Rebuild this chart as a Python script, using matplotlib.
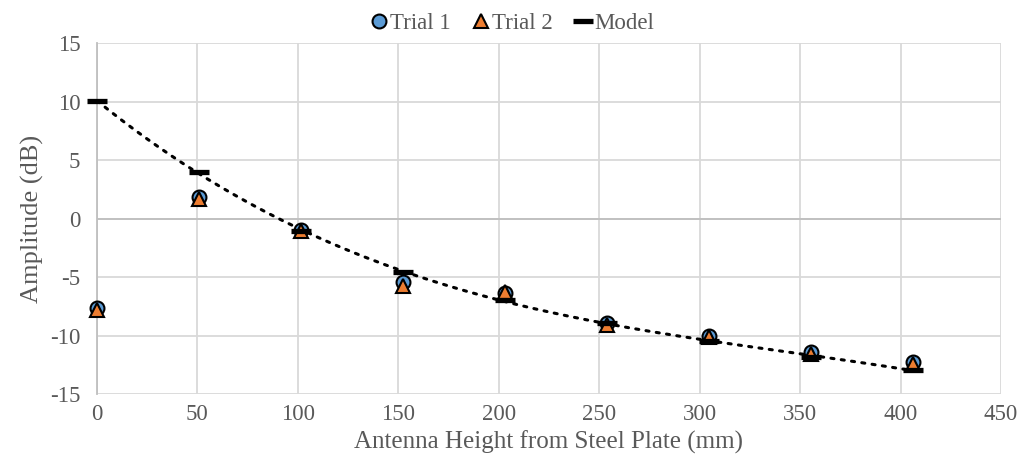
import matplotlib
matplotlib.use("Agg")
import matplotlib.pyplot as plt
import numpy as np

plt.rcParams['font.family'] = ['Liberation Serif', 'DejaVu Serif']
plt.rcParams['axes.unicode_minus'] = False

height = [0, 50.8, 101.6, 152.4, 203.2, 254.0, 304.8, 355.6, 406.4]
trial1 = [-7.65, 1.8, -0.95, -5.4, -6.4, -8.9, -10.0, -11.4, -12.25]
trial2 = [-7.8, 1.7, -1.05, -5.8, -6.25, -9.1, -10.15, -11.55, -12.4]
model = [10.05, 3.95, -1.1, -4.55, -7.0, -8.9, -10.5, -11.8, -12.95]

grey = '#595959'
grid = '#D9D9D9'

fig = plt.figure(figsize=(10.24, 4.73), dpi=100)
ax = fig.add_axes([0.0947, 0.167, 0.8828, 0.742])

# trendline of the model (polynomial fit, like the spreadsheet one)
coef = np.polyfit(height, model, 3)
xt = np.linspace(0, height[-1], 200)
ax.plot(xt, np.polyval(coef, xt), color='black', linestyle=(0, (1, 2.4)),
        linewidth=2.2, zorder=3, dash_capstyle='round')

ax.plot(height, trial1, 'o', ms=10, mfc='#5B9BD5', mec='black', mew=1.5,
        label='Trial 1', zorder=4, clip_on=False)
ax.plot(height, trial2, '^', ms=10, mfc='#ED7D31', mec='black', mew=1.5,
        label='Trial 2', zorder=5, clip_on=False)
ax.plot(height, model, '_', ms=14.5, mec='black', mew=3.8,
        label='Model', zorder=6, clip_on=False)

ax.set_xlim(0, 450)
ax.set_ylim(-15, 15)
ax.set_xticks(range(0, 451, 50))
ax.set_yticks(range(-15, 16, 5))
ax.grid(True, color=grid, linewidth=1.3)
ax.set_axisbelow(True)

for s in ['top', 'right', 'bottom']:
    ax.spines[s].set_visible(False)
ax.spines['left'].set_color('#BFBFBF')
ax.spines['left'].set_linewidth(1.3)
ax.axhline(0, color='#BFBFBF', linewidth=1.3, zorder=1)

ax.tick_params(axis='both', length=0, labelsize=16.5, labelcolor=grey)
ax.tick_params(axis='x', pad=7)
ax.tick_params(axis='y', pad=12)
ax.set_xlabel('Antenna Height from Steel Plate (mm)', fontsize=18, color=grey,
              labelpad=4)
ax.set_ylabel('Amplitude (dB)', fontsize=19, color=grey, labelpad=4)

fig.legend(*ax.get_legend_handles_labels(), loc='lower center',
           bbox_to_anchor=(0.5, 0.908), ncol=3, frameon=False,
           fontsize=16.5, handlelength=0.8, handletextpad=0.1, columnspacing=0.9,
           borderaxespad=0.0, labelcolor=grey)

fig.savefig('out.png', dpi=100)
